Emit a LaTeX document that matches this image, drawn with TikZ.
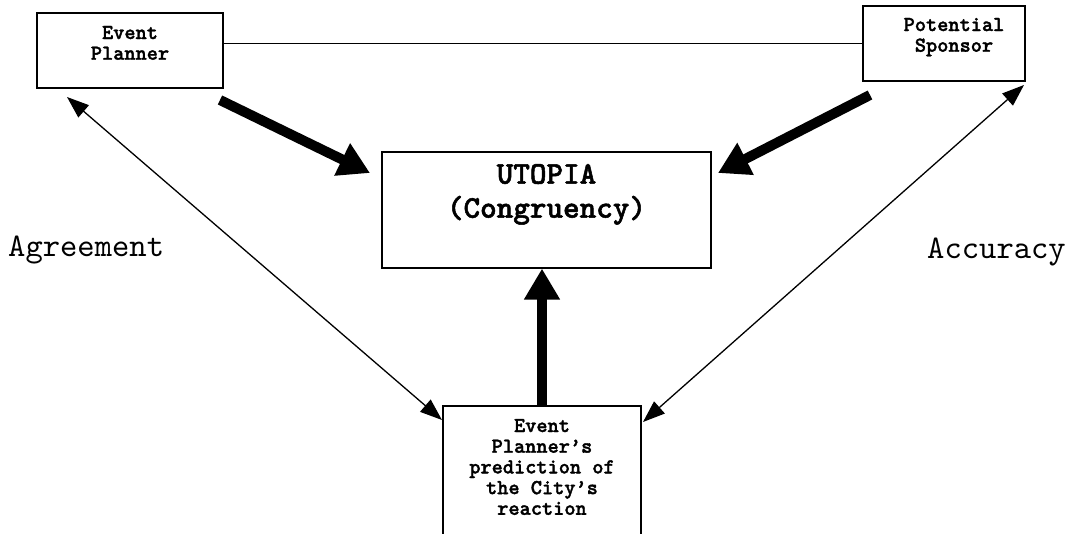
\documentclass[tikz,border=0pt]{standalone}
\usepackage{fontspec}
\newfontfamily\lmr{lmmono10-regular}[Extension=.otf]
\newfontfamily\lmb{lmmonolt10-bold}[Extension=.otf, FakeBold=1.6]
\usetikzlibrary{arrows.meta}
\begin{document}
\begin{tikzpicture}[x=1pt,y=-1pt,
  box/.style={draw, line width=1.2pt, inner sep=0pt},
  smalltext/.style={font=\lmb\fontsize{21.3}{20.7}\selectfont},
  bigtext/.style={font=\lmb\fontsize{31.6}{34}\selectfont},
  heavy/.style={line width=10pt, -{Triangle[width=34pt,length=31pt]}},
  light/.style={line width=1.3pt, {Triangle[width=16pt,length=22pt]}-{Triangle[width=16pt,length=22pt]}},
  lbl/.style={font=\lmr\fontsize{33}{36}\selectfont, inner sep=0pt}]
\useasboundingbox (0,0) rectangle (1072,534);
% boxes
\node[box, smalltext, minimum width=186pt, minimum height=75pt] (ep) at (130,50.5)
  {\parbox[c][75pt][t]{186pt}{\centering\vspace*{13pt}Event\\Planner}};
\node[box, smalltext, minimum width=162pt, minimum height=75pt] (ps) at (944,43.5)
  {\parbox[c][75pt][t]{162pt}{\centering\vspace*{12pt}\hspace*{20pt}Potential\\\hspace*{20pt}Sponsor}};
\node[box, bigtext, minimum width=329pt, minimum height=116pt] (ut) at (546.5,210)
  {\parbox[c][116pt][t]{329pt}{\centering\vspace*{12pt}UTOPIA\\(Congruency)}};
\node[box, smalltext, minimum width=198pt, minimum height=154pt] (bt) at (542,483)
  {\parbox[c][154pt][t]{198pt}{\centering\vspace*{13pt}Event\\Planner’s\\prediction of\\the City’s\\reaction}};
% labels
\node[lbl, anchor=west] (agr) at (8,250) {Agreement};
\node[lbl, anchor=east] (acc) at (1066,252) {Accuracy};
% free ends
\coordinate (h1s) at (220,100);
\coordinate (h1e) at (370,173);
\coordinate (h2s) at (870,95);
\coordinate (h2e) at (718,173);
\coordinate (l1a) at (67,97);
\coordinate (l1b) at (442,420);
\coordinate (l2a) at (1024,85);
\coordinate (l2b) at (643,422);
% connectors
\draw[line width=1.2pt] (ep.east |- ps.west) -- (ps.west);
\draw[heavy] (h1s) -- (h1e);
\draw[heavy] (h2s) -- (h2e);
\draw[heavy] (bt.north) -- (bt.north |- ut.south);
\draw[light] (l1a) -- (l1b);
\draw[light] (l2a) -- (l2b);
\end{tikzpicture}
\end{document}
